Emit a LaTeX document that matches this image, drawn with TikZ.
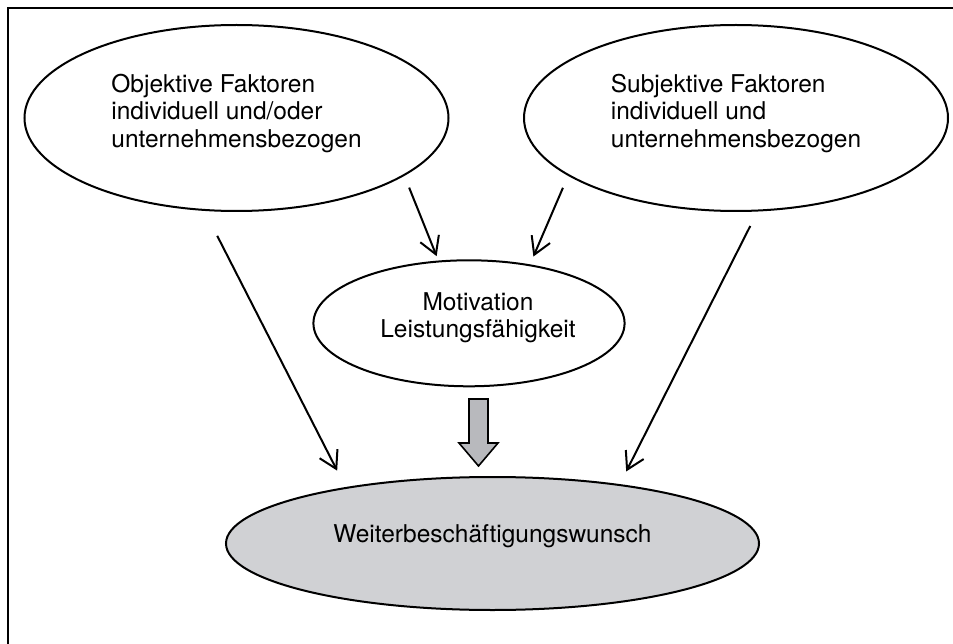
\documentclass[tikz,border=0pt]{standalone}
\usepackage{fontspec}
\setmainfont{TeX Gyre Heros}
\usetikzlibrary{shapes.geometric,arrows.meta,positioning}
\definecolor{hellgrau}{RGB}{208,209,212}
\definecolor{pfeilgrau}{RGB}{184,185,189}
\begin{document}
\begin{tikzpicture}[x=1pt,y=-1pt,
  schrift/.style={font=\fontsize{24.5pt}{27.5pt}\selectfont},
  faktor/.style={ellipse,draw,line width=2pt,schrift,align=left,
    minimum width=424pt,minimum height=186pt,text depth=14.5pt},
  mitte/.style={ellipse,draw,line width=2pt,schrift,align=center,
    minimum width=305pt,minimum height=126pt,text depth=16.8pt},
  ziel/.style={ellipse,draw,fill=hellgrau,line width=2pt,schrift,
    minimum width=533pt,minimum height=133pt,text depth=20.5pt},
  pfeil/.style={line width=2pt,-{Straight Barb[length=17pt,width=20pt]}},
  fettpfeil/.style={draw,fill=pfeilgrau,line width=1.6pt,line join=miter}]
  \useasboundingbox (0,0) rectangle (953,644);
  \draw[line width=2.8pt] (8,644) -- (8,8) -- (953,8);
  \node [faktor] (objektiv) at (236.5,118) {Objektive Faktoren\\individuell und/oder\\unternehmensbezogen};
  \node [faktor] (subjektiv) at (736,118) {Subjektive Faktoren\\individuell und\\unternehmensbezogen};
  \node [mitte] (motiv) at (469,323.3) {\hspace*{18pt}Motivation\\\hspace*{18pt}Leistungsfähigkeit};
  \node [ziel] (wunsch) at (492.5,543.5) {Weiterbeschäftigungswunsch};
  \draw[pfeil,shorten <=12.7pt,shorten >=4.7pt] (objektiv.-19) -- (motiv.116);
  \draw[pfeil,shorten <=13pt,shorten >=8.5pt] (subjektiv.-161.3) -- (motiv.44.4);
  \draw[pfeil,shorten <=28pt,shorten >=18.5pt] (objektiv.-109.1) -- (wunsch.159.9);
  \draw[pfeil,shorten <=16.2pt,shorten >=14.2pt] (subjektiv.-77.6) -- (wunsch.25.4);
  \coordinate (pfeil) at (478.5,399);
  \path[fettpfeil] (pfeil) ++(-9.5,0) -- ++(19,0) -- ++(0,44) -- ++(10,0)
    -- ++(-19.5,23) -- ++(-19.5,-23) -- ++(10,0) -- cycle;
\end{tikzpicture}
\end{document}
